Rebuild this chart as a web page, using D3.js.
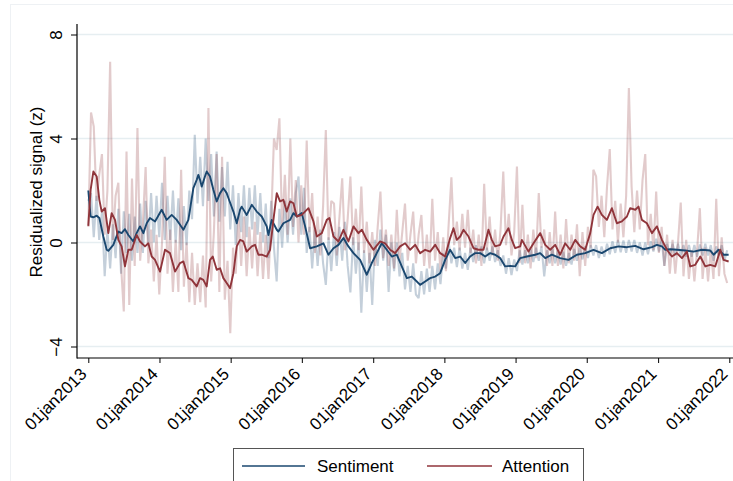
<!DOCTYPE html>
<html><head><meta charset="utf-8">
<script src="https://cdn.jsdelivr.net/npm/d3@7"></script>
<style>body{margin:0;background:#fff}svg{display:block;font-family:Arial,"Liberation Sans",sans-serif}</style>
</head><body><svg id="c" width="733" height="481"></svg>
<script>
// ---- data ----
const xTickYears = [2013,2014,2015,2016,2017,2018,2019,2020,2021,2022];
const yTicks = [-4,0,4,8];
const seriesNames = ["Sentiment","Attention"];
const rawStart = "2013-01-01";
const rawStepDays = 14;
const sentimentRaw = [
1.6,1.9,0.2,1.8,0.1,1.2,-1.3,0.5,-1.0,0.7,
-0.6,1.3,-1.2,1.2,-0.4,1.1,-0.7,1.0,-0.4,1.5,
-0.4,1.6,0.0,1.9,0.0,1.8,0.2,2.3,0.1,1.8,
0.1,2.0,0.0,1.7,-0.3,1.4,-0.1,2.0,0.9,4.14,
1.5,3.3,1.4,4.0,1.6,3.4,1.0,3.5,0.8,2.9,
1.0,3.1,0.5,2.2,-0.1,1.9,0.4,2.2,0.2,2.1,
0.5,2.2,0.3,1.9,0.0,1.5,-0.6,1.6,-0.2,-1.5,
1.3,-0.2,1.6,0.0,1.7,0.3,1.9,2.54,0.3,2.1,
-0.4,0.6,-1.0,0.5,-0.9,0.5,-0.8,-1.63,0.2,-1.1,
0.4,-0.9,0.6,-0.7,0.8,-0.9,-1.92,0.2,-1.2,0.0,
-2.7,-0.3,-1.9,-0.4,-2.4,0.1,-0.9,0.5,-0.7,0.3,
-1.9,0.0,-1.1,0.0,-1.3,-0.4,-1.8,-0.9,-1.9,-0.8,
-2.0,-2.14,-1.1,-2.0,-1.0,-1.9,-0.9,-1.8,-0.8,-1.6,
-0.4,-1.0,0.0,-0.8,-0.2,-0.95,-0.2,-1.0,-0.4,-1.05,
-0.2,-0.75,-0.1,-0.7,-0.15,-0.8,-0.2,-0.7,-0.15,-0.75,
-0.3,-0.9,-0.5,-1.2,-0.6,-1.25,-0.65,-1.1,-0.3,-0.85,
-0.3,-0.8,-0.25,-0.75,-0.2,-0.7,-0.15,-1.3,-0.3,-0.8,
-0.25,-0.8,-0.3,-0.85,-0.35,-0.9,-0.4,-0.85,-0.25,-0.7,
-0.2,-0.65,-0.15,-0.6,-0.1,-0.5,-0.1,-0.6,-0.15,-0.55,
-0.05,-0.45,0.05,-0.4,0.1,-0.38,0.08,-0.4,0.1,-0.35,
0.1,-0.4,0.0,-0.5,0.0,-0.45,0.05,-0.35,0.15,-0.35,
0.1,-0.9,-0.05,-0.5,-0.05,-0.5,-0.05,-0.5,-0.1,-0.55,
-0.1,-0.55,-0.1,-0.55,-0.08,-0.5,-0.05,-0.5,-0.1,-0.7,
-0.15,-0.5,-0.1,-0.7,-0.3];
const attentionRaw = [
0.6,5.0,4.46,1.6,2.6,3.4,0.3,2.0,6.95,0.1,
1.8,2.3,-0.9,-2.65,3.5,-2.4,2.46,-0.9,4.4,-0.7,
0.8,2.9,-0.8,0.5,-1.5,0.3,-2.0,0.0,3.3,-1.2,
0.5,-1.9,0.1,-1.9,2.8,-1.7,0.0,-2.3,-0.4,-2.4,
-0.8,-2.3,-0.5,-2.5,5.17,-1.5,0.4,3.4,-1.9,3.3,
-2.2,-0.7,-3.49,-0.2,-1.2,1.0,-0.9,1.0,-1.3,0.6,
-1.0,0.8,-1.3,0.4,-1.4,0.3,-1.4,0.9,4.0,3.56,
4.78,0.6,2.6,0.3,4.0,0.6,2.4,0.0,2.2,0.3,
3.92,0.4,1.9,-0.4,1.0,-0.5,1.4,4.33,0.1,1.6,
1.5,-0.5,1.0,2.47,-0.3,0.9,2.54,-0.1,1.3,-0.3,
2.15,-0.4,0.8,-0.8,0.4,-0.9,0.6,1.96,-0.6,0.5,
-0.9,0.3,-1.0,1.26,-0.7,0.4,1.5,-0.7,0.3,1.19,
-0.8,0.3,1.06,-0.9,0.3,-1.0,1.68,-0.7,0.4,-1.1,
0.2,-1.1,0.7,2.51,-0.1,0.8,-0.3,1.1,-0.2,1.26,
-0.4,0.5,-0.8,0.3,-0.9,2.26,-0.3,1.0,-0.5,0.5,
-0.7,0.5,2.73,-0.1,1.1,-0.5,0.4,2.92,-0.8,1.45,
-0.8,0.3,-1.0,0.5,-0.6,1.9,-0.2,0.5,-0.9,0.4,
-0.9,1.19,-0.9,0.3,-1.0,0.9,-0.8,0.3,-0.7,0.7,
-1.3,0.4,-0.9,0.6,-0.2,2.8,2.54,0.6,1.8,0.2,
2.15,3.59,0.5,1.6,0.0,1.5,0.2,1.8,5.94,2.15,
0.4,2.0,0.5,2.4,3.4,-0.1,1.1,-0.3,1.96,-0.4,
0.6,-0.9,0.3,-1.2,0.1,-1.2,0.0,1.54,-1.3,0.1,
-1.4,-0.3,-1.5,-0.3,1.32,-1.4,-0.2,-1.5,-0.3,-1.4,
1.68,-1.3,0.2,-1.2,-1.56];
// smoothed series: [years since 01jan2013, value]
const sentimentSmooth = [[0,2.0],[.033,1.0],[.071,.97],[.118,1.03],[.155,.94],[.211,.23],[.258,-.28],[.281,-.32],[.351,-.09],[.422,.42],[.468,.36],[.515,.51],[.562,.29],[.632,.04],[.679,.36],[.726,.62],[.773,.36],[.820,.74],[.866,.94],[.937,.81],[1.03,1.26],[1.1,.87],[1.171,1.06],[1.241,.87],[1.288,.68],[1.335,.49],[1.405,.87],[1.475,2.09],[1.522,2.41],[1.545,2.6],[1.569,2.41],[1.592,2.15],[1.638,2.54],[1.662,2.73],[1.709,2.54],[1.756,2.03],[1.803,1.58],[1.85,1.9],[1.896,2.09],[1.943,1.9],[1.967,1.71],[2.037,1.19],[2.084,.74],[2.131,1.26],[2.154,1.38],[2.224,1.06],[2.295,1.45],[2.365,1.19],[2.435,1.0],[2.505,.62],[2.529,.29],[2.575,.87],[2.646,.49],[2.669,.42],[2.739,.74],[2.833,.87],[2.880,1.13],[2.927,1.0],[2.997,1.13],[3.044,.62],[3.114,-.22],[3.208,-.15],[3.301,-.03],[3.371,-.47],[3.442,-.22],[3.512,-.09],[3.582,.17],[3.652,-.15],[3.723,-.41],[3.816,-.67],[3.910,-1.24],[3.980,-.79],[4.050,-.41],[4.120,-.03],[4.191,-.28],[4.261,-.54],[4.331,-.47],[4.401,-.92],[4.472,-1.37],[4.542,-1.31],[4.612,-1.5],[4.659,-1.63],[4.729,-1.5],[4.799,-1.37],[4.870,-1.31],[4.940,-1.18],[5.010,-.67],[5.080,-.28],[5.151,-.6],[5.221,-.54],[5.291,-.79],[5.361,-.54],[5.431,-.41],[5.502,-.41],[5.572,-.54],[5.642,-.41],[5.712,-.47],[5.782,-.6],[5.853,-.92],[5.923,-.9],[5.993,-.92],[6.063,-.6],[6.157,-.54],[6.274,-.47],[6.344,-.41],[6.415,-.6],[6.508,-.47],[6.625,-.6],[6.742,-.67],[6.859,-.47],[6.976,-.41],[7.093,-.28],[7.210,-.41],[7.327,-.22],[7.445,-.15],[7.562,-.18],[7.679,-.13],[7.796,-.26],[7.913,-.18],[7.983,-.09],[8.053,-.15],[8.100,-.28],[8.170,-.26],[8.264,-.28],[8.381,-.31],[8.498,-.35],[8.615,-.28],[8.732,-.31],[8.779,-.47],[8.849,-.28],[8.919,-.47],[8.990,-.47]];
const attentionSmooth = [[0,.64],[.033,2.03],[.071,2.73],[.118,2.54],[.155,1.64],[.188,1.19],[.234,1.32],[.281,.36],[.328,1.13],[.375,.87],[.422,.1],[.468,-.15],[.515,-.92],[.562,-.28],[.609,-.28],[.679,.29],[.726,.04],[.796,-.15],[.843,-.03],[.890,-.54],[.937,-.67],[1.007,-1.12],[1.077,-.28],[1.147,-.41],[1.218,-1.12],[1.288,-.79],[1.335,-.73],[1.405,-1.37],[1.452,-1.44],[1.522,-1.69],[1.569,-1.37],[1.615,-1.44],[1.662,-1.69],[1.709,-.67],[1.747,-.54],[1.803,-1.05],[1.85,-.99],[1.896,-1.37],[1.943,-1.56],[1.990,-1.76],[2.037,-1.18],[2.084,-.15],[2.131,.1],[2.177,.04],[2.224,-.35],[2.295,-.15],[2.341,-.09],[2.388,-.47],[2.435,-.47],[2.505,-.54],[2.552,-.28],[2.599,.87],[2.646,1.9],[2.692,1.58],[2.739,1.64],[2.786,1.19],[2.833,1.58],[2.880,1.51],[2.927,1.0],[2.997,1.06],[3.091,1.32],[3.161,.81],[3.208,.23],[3.278,.36],[3.348,.87],[3.385,.94],[3.442,.23],[3.512,.04],[3.582,.49],[3.652,.04],[3.723,.62],[3.793,.36],[3.840,.49],[3.910,.1],[4.003,-.28],[4.097,.04],[4.167,-.03],[4.237,-.28],[4.308,-.41],[4.378,-.15],[4.448,-.03],[4.518,-.28],[4.589,-.09],[4.659,-.41],[4.729,-.28],[4.799,-.35],[4.870,-.09],[4.940,-.41],[5.010,-.54],[5.080,.17],[5.127,.55],[5.174,.1],[5.221,.23],[5.268,.49],[5.338,.23],[5.408,-.22],[5.478,-.28],[5.548,-.28],[5.618,.49],[5.665,.1],[5.712,-.15],[5.782,-.09],[5.829,.23],[5.899,.55],[5.946,.1],[5.993,-.22],[6.063,-.15],[6.087,.1],[6.180,-.35],[6.251,-.03],[6.344,.36],[6.415,-.09],[6.485,-.28],[6.555,-.09],[6.625,-.47],[6.695,-.03],[6.766,-.28],[6.836,.1],[6.906,-.15],[6.976,-.28],[7.047,.36],[7.093,1.06],[7.150,1.38],[7.210,1.06],[7.281,.87],[7.351,1.32],[7.421,.74],[7.491,.81],[7.562,1.0],[7.608,1.32],[7.679,1.26],[7.725,1.38],[7.772,.87],[7.842,.74],[7.913,.36],[7.983,.62],[8.053,.1],[8.124,-.28],[8.194,-.54],[8.264,-.41],[8.334,-.6],[8.404,-.35],[8.451,-.92],[8.521,-.86],[8.592,-.54],[8.662,-.92],[8.732,-.86],[8.802,-.92],[8.873,-.28],[8.919,-.67],[8.990,-.73]];
const colors = {Sentiment:"#1a476f", Attention:"#90353b"};

// ---- drawing ----
const svg = d3.select("#c");
const DAY = 864e5;
const t0 = Date.parse(rawStart);
const yrToDate = t => new Date(t0 + t*365.25*DAY);
const rawDate = i => new Date(t0 + i*rawStepDays*DAY);

const x = d3.scaleUtc()
  .domain([new Date(Date.UTC(2013,0,1)), new Date(Date.UTC(2022,0,1))])
  .range([88.3, 729.3]);
const y = d3.scaleLinear().domain([-4,8]).range([346.5,34.5]);

// figure border
svg.append("rect").attr("x",10.5).attr("y",4.5).attr("width",760).attr("height",520)
  .attr("fill","none").attr("stroke","#eef1f4");

// gridlines
svg.append("g").selectAll("line").data(yTicks).join("line")
  .attr("x1",77).attr("x2",733).attr("y1",d=>y(d)).attr("y2",d=>y(d))
  .attr("stroke","#e6eef1").attr("stroke-width",1.3);

const rawLine = d3.line().x((d,i)=>x(rawDate(i))).y(d=>y(d));
const smLine = d3.line().x(d=>x(yrToDate(d[0]))).y(d=>y(d[1]));

svg.append("path").attr("d",rawLine(sentimentRaw)).attr("fill","none")
  .attr("stroke",colors.Sentiment).attr("stroke-opacity",0.26).attr("stroke-width",2.1)
  .attr("stroke-linejoin","bevel");
svg.append("path").attr("d",rawLine(attentionRaw)).attr("fill","none")
  .attr("stroke",colors.Attention).attr("stroke-opacity",0.26).attr("stroke-width",2.1)
  .attr("stroke-linejoin","bevel");
svg.append("path").attr("d",smLine(sentimentSmooth)).attr("fill","none")
  .attr("stroke",colors.Sentiment).attr("stroke-width",1.9).attr("stroke-linejoin","round");
svg.append("path").attr("d",smLine(attentionSmooth)).attr("fill","none")
  .attr("stroke",colors.Attention).attr("stroke-width",1.9).attr("stroke-linejoin","round");

// y axis
const ya = svg.append("g").attr("transform","translate(77,0)")
  .call(d3.axisLeft(y).tickValues(yTicks).tickSize(6).tickFormat(d3.format("d")));
ya.select(".domain").remove();
ya.selectAll("line").attr("stroke","#000");
ya.selectAll("text").attr("x",null).attr("dy",null).attr("text-anchor","middle")
  .attr("transform","translate(-15,0) rotate(-90)")
  .attr("font-size",17).attr("fill","#000").attr("font-family","Arial, Liberation Sans, sans-serif");
svg.append("line").attr("x1",77).attr("x2",77).attr("y1",24).attr("y2",358.5).attr("stroke","#000").attr("stroke-width",1.2);

// x axis
const xa = svg.append("g").attr("transform","translate(0,358)")
  .call(d3.axisBottom(x).tickValues(xTickYears.map(yv=>new Date(Date.UTC(yv,0,1))))
    .tickSize(5).tickFormat(d=>"01jan"+d.getUTCFullYear()));
xa.select(".domain").remove();
xa.selectAll("line").attr("stroke","#000");
xa.selectAll("text").attr("y",null).attr("dy",null).attr("text-anchor","end")
  .attr("transform","translate(-1,17) rotate(-45)")
  .attr("font-size",17).attr("fill","#000").attr("font-family","Arial, Liberation Sans, sans-serif");
svg.append("line").attr("x1",77).attr("x2",733).attr("y1",358).attr("y2",358).attr("stroke","#000").attr("stroke-width",1.2);

// y title
svg.append("text").attr("transform","translate(42,192) rotate(-90)")
  .attr("text-anchor","middle").attr("font-size",17).text("Residualized signal (z)");

// legend
const lg = svg.append("g");
lg.append("rect").attr("x",233.5).attr("y",448.5).attr("width",350).attr("height",45)
  .attr("fill","#fff").attr("stroke","#555");
const items = [{n:seriesNames[0],x1:242,x2:305,tx:317},{n:seriesNames[1],x1:427,x2:492,tx:502}];
items.forEach(it=>{
  lg.append("line").attr("x1",it.x1).attr("x2",it.x2).attr("y1",466).attr("y2",466)
    .attr("stroke",colors[it.n]).attr("stroke-width",1.6);
  lg.append("text").attr("x",it.tx).attr("y",472).attr("font-size",17).text(it.n);
});
</script></body></html>
